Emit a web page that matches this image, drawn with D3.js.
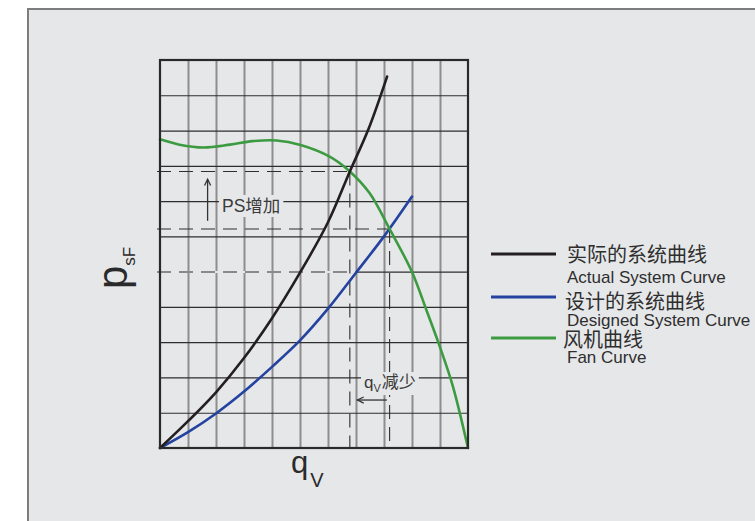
<!DOCTYPE html>
<html><head><meta charset="utf-8">
<script src="https://cdn.jsdelivr.net/npm/d3@7"></script>
<style>
html,body{margin:0;padding:0;background:#fff;}
svg{display:block;}
</style></head>
<body>
<svg id="chart" width="755" height="521"></svg>
<script>
// ---- data (grid units: 11 x 11 cells) ----
const gridTicks = [1,2,3,4,5,6,7,8,9,10];
const actualX = [0, 1, 2, 3, 4, 5, 6, 6.78, 7.45, 8.11];
const actualY = [0, 0.76, 1.58, 2.55, 3.68, 4.97, 6.4, 7.84, 9.05, 10.53];
const designX = [0, 1, 2, 3, 4, 5, 6, 7, 8, 9];
const designY = [0, 0.45, 0.98, 1.6, 2.3, 3.05, 3.95, 4.97, 6.0, 7.13];
const fanX = [0, 0.7, 1.55, 2.5, 3.3, 4.16, 5.02, 6.06, 6.78, 7.49, 8.2, 9.0, 9.51, 9.99, 10.46, 11];
const fanY = [8.75, 8.6, 8.52, 8.6, 8.7, 8.72, 8.59, 8.26, 7.84, 7.22, 6.21, 4.99, 3.92, 2.88, 1.75, 0];
const actualPoint = [6.78, 7.84];   // actual operating point
const designPoint = [8.2, 6.21];    // design operating point
const designLevel = [7.02, 4.99];   // design curve level line
const legendCn = ["实际的系统曲线", "设计的系统曲线", "风机曲线"];
const legendEn = ["Actual System Curve", "Designed System Curve", "Fan Curve"];
const legendColors = ["#231f20", "#2443a0", "#3c9b40"];

const svg = d3.select("#chart");
const bg = "#e6e7e9";
const fontLatin = "'Liberation Sans', Arial, sans-serif";
const fontCJK = "'Liberation Sans', 'Noto Sans CJK SC', sans-serif";

// outer frame
svg.append("rect").attr("x", 28).attr("y", 9).attr("width", 760).attr("height", 540)
  .attr("fill", bg).attr("stroke", "#7d7d7d").attr("stroke-width", 2);

const L = 160, T = 60, R = 468, B = 448;
const x = d3.scaleLinear().domain([0, 11]).range([L, R]);
const y = d3.scaleLinear().domain([0, 11]).range([B, T]);

// grid via axes
const gx = svg.append("g").attr("transform", `translate(0,${B})`)
  .call(d3.axisBottom(x).tickValues(gridTicks).tickSize(-(B - T)).tickFormat(""));
gx.select(".domain").remove();
gx.selectAll(".tick line").attr("stroke", "#8e8e8e").attr("stroke-width", 2);

const gy = svg.append("g").attr("transform", `translate(${L},0)`)
  .call(d3.axisLeft(y).tickValues(gridTicks).tickSize(-(R - L)).tickFormat(""));
gy.select(".domain").remove();
gy.selectAll(".tick line").attr("stroke", "#2e2e2e").attr("stroke-width", 1.2);

// dashed reference lines
const dash = "14,8";
const x0 = L - 3;
svg.append("line").attr("x1", L + 1).attr("x2", x(designLevel[0])).attr("y1", y(designLevel[1])).attr("y2", y(designLevel[1]))
  .attr("stroke", bg).attr("stroke-width", 2);
const dashed = [
  [x0, y(actualPoint[1]), x(actualPoint[0]), y(actualPoint[1])],
  [x0, y(designPoint[1]), x(designPoint[0]), y(designPoint[1])],
  [x0, y(designLevel[1]), x(designLevel[0]), y(designLevel[1])],
  [x(actualPoint[0]), y(actualPoint[1]), x(actualPoint[0]), B],
  [x(designPoint[0]), y(designPoint[1]), x(designPoint[0]), B]
];
svg.selectAll(".dash").data(dashed).enter().append("line")
  .attr("x1", d => d[0]).attr("y1", d => d[1]).attr("x2", d => d[2]).attr("y2", d => d[3])
  .attr("stroke", "#2e2e2e").attr("stroke-width", 1.1).attr("stroke-dasharray", dash);

// annotation labels with background
function label(g, xx, yy, parts) {
  const t = g.append("text").attr("x", xx).attr("y", yy).attr("fill", "#3a3a3a")
    .attr("font-family", fontCJK);
  parts.forEach(p => {
    const s = t.append("tspan").text(p.t).attr("font-size", p.fs);
    if (p.dy) s.attr("dy", p.dy);
    if (p.dx) s.attr("dx", p.dx);
  });
  return t;
}
const annG = svg.append("g");
const bgG = annG.append("g");
const t1 = label(annG, 222, 212, [{t: "PS", fs: 17.5}, {t: "增加", fs: 17.5}]);
const t2 = label(annG, 364, 388, [{t: "q", fs: 17}, {t: "V", fs: 11, dy: 4}, {t: "减少", fs: 17, dy: -4, dx: 1}]);
[t1, t2].forEach(t => {
  const b = t.node().getBBox();
  bgG.append("rect").attr("x", b.x - 3).attr("y", b.y - 1).attr("width", b.width + 6).attr("height", b.height + 2)
    .attr("fill", bg);
});

// arrows
function arrow(x1, y1, x2, y2) {
  const g = svg.append("g").attr("stroke", "#333").attr("stroke-width", 1.3).attr("fill", "none");
  g.append("line").attr("x1", x1).attr("y1", y1).attr("x2", x2).attr("y2", y2);
  const ang = Math.atan2(y2 - y1, x2 - x1), h = 7, w = 0.45;
  const p = [[x2 - h * Math.cos(ang - w), y2 - h * Math.sin(ang - w)], [x2, y2], [x2 - h * Math.cos(ang + w), y2 - h * Math.sin(ang + w)]];
  g.append("path").attr("d", d3.line()(p));
}
arrow(x(1.7), y(6.44), x(1.7), y(7.62));
arrow(x(8.1), y(1.36), x(7.05), y(1.36));

// curves
const line = d3.line().x(d => x(d[0])).y(d => y(d[1])).curve(d3.curveCatmullRom.alpha(0.5));
const curves = [
  {xs: designX, ys: designY, c: legendColors[1]},
  {xs: fanX, ys: fanY, c: legendColors[2]},
  {xs: actualX, ys: actualY, c: legendColors[0]}
];
curves.forEach(cv => {
  svg.append("path").datum(cv.xs.map((v, i) => [v, cv.ys[i]]))
    .attr("d", line).attr("fill", "none").attr("stroke", cv.c).attr("stroke-width", 2.6)
    .attr("stroke-linecap", "round");
});

// plot border
svg.append("rect").attr("x", L).attr("y", T).attr("width", R - L).attr("height", B - T)
  .attr("fill", "none").attr("stroke", "#2a2a2a").attr("stroke-width", 2.2);

// axis labels
const yl = svg.append("text").attr("transform", "translate(127,289) rotate(-90)")
  .attr("font-family", fontLatin).attr("fill", "#2a2a2a");
yl.append("tspan").text("p").attr("font-size", 42);
yl.append("tspan").text("sF").attr("font-size", 17).attr("dy", 8);

const xl = svg.append("text").attr("x", 291).attr("y", 473)
  .attr("font-family", fontLatin).attr("fill", "#2a2a2a");
xl.append("tspan").text("q").attr("font-size", 31);
xl.append("tspan").text("V").attr("font-size", 20).attr("dy", 14).attr("dx", 2);

// legend
const legLineY = [254, 297, 338];
const cnY = [262, 308.5, 347];
const cnX = [567, 565, 563];
const enY = [283.3, 326, 362.7];
legendCn.forEach((s, i) => {
  svg.append("line").attr("x1", 491).attr("x2", 556).attr("y1", legLineY[i]).attr("y2", legLineY[i])
    .attr("stroke", legendColors[i]).attr("stroke-width", 3);
  svg.append("text").attr("x", cnX[i]).attr("y", cnY[i]).text(s)
    .attr("font-family", "'Noto Sans CJK SC', sans-serif").attr("font-size", 20).attr("fill", "#2e2e2e");
  svg.append("text").attr("x", 567).attr("y", enY[i]).text(legendEn[i])
    .attr("font-family", fontLatin).attr("font-size", 17).attr("fill", "#2e2e2e");
});
</script>
</body></html>
